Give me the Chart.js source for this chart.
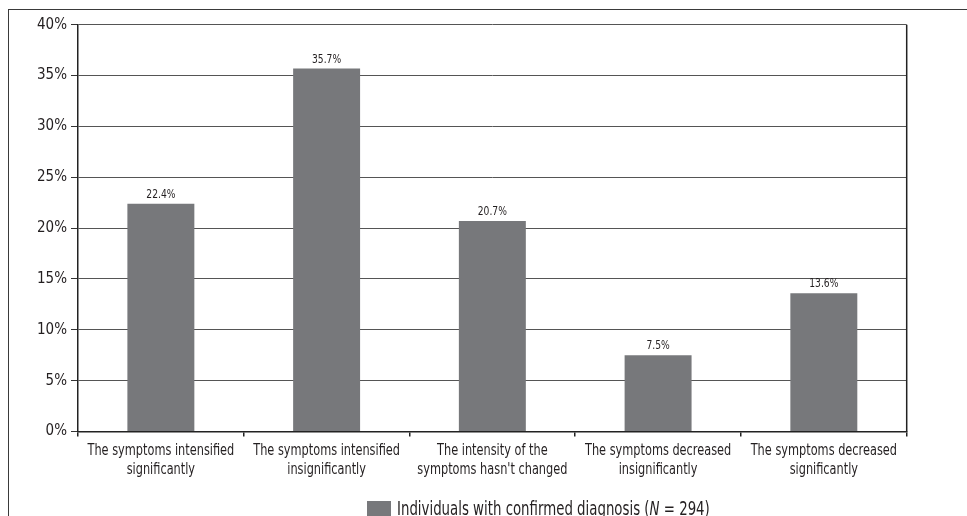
<!DOCTYPE html>
<html>
<head>
<meta charset="utf-8">
<script src="https://cdn.jsdelivr.net/npm/chart.js@4/dist/chart.umd.min.js"></script>
<style>
  html, body { margin: 0; padding: 0; background: #fff; }
  #wrap { position: relative; width: 967px; height: 516px; overflow: hidden; }
  #frame { position: absolute; left: 8px; top: 9px; right: -10px; bottom: -10px;
           border-left: 1.5px solid #3a3a3a; border-top: 1.5px solid #3a3a3a; pointer-events: none; }
  canvas { position: absolute; left: 0; top: 0; }
</style>
</head>
<body>
<div id="wrap">
  <canvas id="chart" width="967" height="516"></canvas>
  <div id="frame"></div>
</div>
<script>
// Responses about change in symptom intensity
const categories = [
  ["The symptoms intensified", "significantly"],
  ["The symptoms intensified", "insignificantly"],
  ["The intensity of the", "symptoms hasn't changed"],
  ["The symptoms decreased", "insignificantly"],
  ["The symptoms decreased", "significantly"]
];
const percentages = [22.4, 35.7, 20.7, 7.5, 13.6];
const yTicks = [0, 5, 10, 15, 20, 25, 30, 35, 40];
const seriesLabel = ["Individuals with confirmed diagnosis (", "N", " = 294)"];

const FONT = "'DejaVu Sans Condensed', 'DejaVu Sans', sans-serif";
const INK = '#231f20';
const BAR = '#77787b';

// Write text narrowed horizontally around an anchor point
function narrowText(ctx, text, x, y, squeeze, align) {
  ctx.save();
  ctx.translate(x, y);
  ctx.scale(squeeze, 1);
  ctx.textAlign = align;
  ctx.fillText(text, 0, 0);
  ctx.restore();
}

// Percentage printed above each bar
const valueLabels = {
  id: 'valueLabels',
  afterDatasetsDraw(chart) {
    const ctx = chart.ctx;
    const meta = chart.getDatasetMeta(0);
    ctx.save();
    ctx.font = `12px ${FONT}`;
    ctx.fillStyle = INK;
    ctx.textBaseline = 'bottom';
    meta.data.forEach((bar, i) => {
      narrowText(ctx, chart.data.datasets[0].data[i].toFixed(1) + '%', bar.x, bar.y - 3, 0.85, 'center');
    });
    ctx.restore();
  }
};

// Two-line category names under the axis
const categoryNames = {
  id: 'categoryNames',
  afterDraw(chart) {
    const ctx = chart.ctx;
    const xs = chart.scales.x;
    const base = chart.chartArea.bottom;
    ctx.save();
    ctx.font = `15px ${FONT}`;
    ctx.fillStyle = INK;
    ctx.textBaseline = 'alphabetic';
    chart.data.labels.forEach((lines, i) => {
      const cx = xs.getPixelForValue(i);
      lines.forEach((line, j) => {
        narrowText(ctx, line, cx, base + 23.5 + j * 19, 0.84, 'center');
      });
    });
    ctx.restore();
  }
};

// Closing line on the right side of the plot
const rightEdge = {
  id: 'rightEdge',
  afterDraw(chart) {
    const { ctx, chartArea } = chart;
    ctx.save();
    ctx.strokeStyle = '#222';
    ctx.lineWidth = 1.5;
    ctx.beginPath();
    ctx.moveTo(chartArea.right, chartArea.top);
    ctx.lineTo(chartArea.right, chartArea.bottom);
    ctx.stroke();
    ctx.restore();
  }
};

// Series key with an italic N, set in a narrowed face
const seriesKey = {
  id: 'seriesKey',
  afterDraw(chart) {
    const ctx = chart.ctx;
    const boxX = 367, boxY = 501, boxW = 24, boxH = 16;
    const baseline = 515;
    const squeeze = 0.78;
    ctx.save();
    ctx.fillStyle = BAR;
    ctx.fillRect(boxX, boxY, boxW, boxH);
    ctx.fillStyle = INK;
    ctx.textBaseline = 'alphabetic';
    ctx.textAlign = 'left';
    ctx.translate(boxX + boxW + 6, baseline);
    ctx.scale(squeeze, 1);
    let x = 0;
    seriesLabel.forEach((part, i) => {
      ctx.font = (i === 1 ? 'italic ' : '') + `19px ${FONT}`;
      ctx.fillText(part, x, 0);
      x += ctx.measureText(part).width;
    });
    ctx.restore();
  }
};

new Chart(document.getElementById('chart'), {
  type: 'bar',
  data: {
    labels: categories,
    datasets: [{
      label: seriesLabel.join(''),
      data: percentages,
      backgroundColor: BAR,
      borderWidth: 0,
      categoryPercentage: 1,
      barPercentage: 0.404
    }]
  },
  options: {
    responsive: false,
    animation: false,
    devicePixelRatio: 1,
    layout: { padding: { top: 24.7, right: 60.3, bottom: 0, left: 0 } },
    plugins: { legend: { display: false }, tooltip: { enabled: false } },
    scales: {
      x: {
        offset: true,
        afterFit(scale) { scale.height = 84.5; },
        grid: { display: true, drawOnChartArea: false, drawTicks: true, tickLength: 5,
                offset: true, color: '#222', lineWidth: 1.5 },
        border: { display: true, color: '#222', width: 1.5 },
        ticks: { display: false, autoSkip: false }
      },
      y: {
        min: 0,
        max: 40,
        afterFit(scale) { scale.width = 78; },
        afterBuildTicks(scale) { scale.ticks = yTicks.map(v => ({ value: v })); },
        grid: { color: '#555', lineWidth: 1, drawTicks: true, tickLength: 7, tickColor: '#333' },
        border: { display: true, color: '#222', width: 1.5 },
        ticks: { color: INK, font: { family: FONT, size: 15 }, padding: 4,
                 callback: v => v + '%' }
      }
    }
  },
  plugins: [valueLabels, categoryNames, rightEdge, seriesKey]
});
</script>
</body>
</html>
